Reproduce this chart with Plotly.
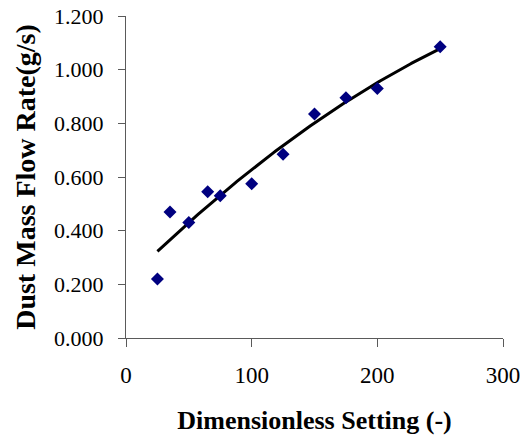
import numpy as np
import plotly.graph_objects as go

setting = [25, 35, 50, 65, 75, 100, 125, 150, 175, 200, 250]
flow_rate = [0.22, 0.47, 0.43, 0.545, 0.53, 0.575, 0.685, 0.835, 0.895, 0.93, 1.085]

x_ticks = [0, 100, 200, 300]
y_ticks = [0.0, 0.2, 0.4, 0.6, 0.8, 1.0, 1.2]

# polynomial (order 2) trendline fitted to the data
coef = np.polyfit(setting, flow_rate, 2)
xs = np.linspace(min(setting), max(setting), 200)
ys = np.polyval(coef, xs)

fig = go.Figure()
fig.add_trace(go.Scatter(x=xs, y=ys, mode="lines",
                         line=dict(color="black", width=3), showlegend=False))
fig.add_trace(go.Scatter(x=setting, y=flow_rate, mode="markers",
                         marker=dict(symbol="diamond", size=10, color="#000080"),
                         showlegend=False))

font_family = "Liberation Serif, Times New Roman, serif"
axis_col = "#5a5a5a"
fig.update_layout(
    width=522, height=439,
    margin=dict(l=126, r=19, t=16, b=101),
    plot_bgcolor="white", paper_bgcolor="white",
    font=dict(family=font_family, color="black"),
    xaxis=dict(range=[0, 300], tickvals=x_ticks, ticktext=[str(v) for v in x_ticks],
               automargin=False,
               showgrid=False, zeroline=False, showline=True, linecolor=axis_col, linewidth=1,
               ticks="outside", ticklen=8, tickcolor=axis_col, tickfont=dict(size=23),
               ticklabelstandoff=8,
               title=dict(text="<b>Dimensionless Setting (-)</b>", font=dict(size=26), standoff=24)),
    yaxis=dict(range=[0, 1.2], tickvals=y_ticks, ticktext=[f"{v:.3f}" for v in y_ticks],
               automargin=False,
               showgrid=False, zeroline=False, showline=True, linecolor=axis_col, linewidth=1,
               ticks="outside", ticklen=7, tickcolor=axis_col, tickfont=dict(size=22),
               ticklabelstandoff=10,
               title=dict(text="<b>Dust Mass Flow Rate(g/s)</b>", font=dict(size=28), standoff=10)),
)

fig.write_html("out.html")
